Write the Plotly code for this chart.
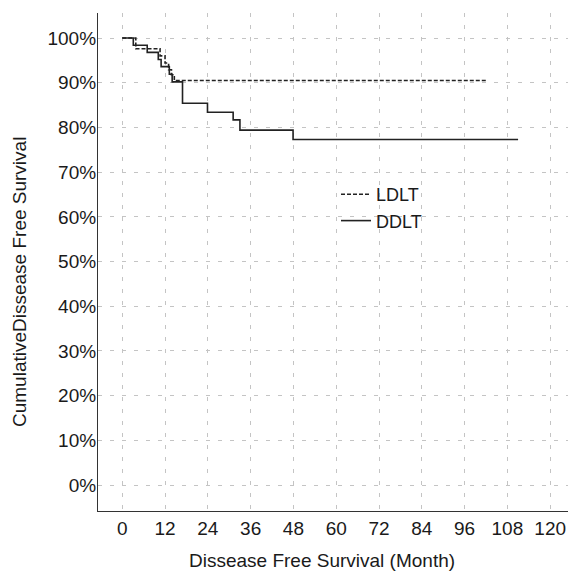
import plotly.graph_objects as go

# Kaplan-Meier step data (months, cumulative disease free survival %)
ldlt_months = [0, 3.8, 10.6, 12.0, 13.0, 13.8, 14.6, 102.2]
ldlt_surv = [100, 97.6, 96.0, 94.4, 92.9, 91.8, 90.5, 90.5]

ddlt_months = [0, 3.1, 7.0, 10.1, 10.9, 13.2, 14.0, 16.9, 23.9, 31.1, 33.0, 47.9, 111.0]
ddlt_surv = [100, 98.4, 96.8, 95.2, 93.6, 91.9, 90.2, 85.4, 83.4, 81.7, 79.4, 77.3, 77.3]

x_ticks = [0, 12, 24, 36, 48, 60, 72, 84, 96, 108, 120]
y_ticks = [0, 10, 20, 30, 40, 50, 60, 70, 80, 90, 100]
y_tick_labels = [f"{v}%" for v in y_ticks]

FONT = "Liberation Sans, Arial, sans-serif"
TXT = "#1a1a1a"

W, H = 569, 571
PL, PR, PT, PB = 98, 568, 13, 511
PW, PH = PR - PL, PB - PT

fig = go.Figure()
fig.add_trace(go.Scatter(
    x=ldlt_months, y=ldlt_surv, mode="lines", name="LDLT",
    line=dict(shape="hv", color="#222222", width=1.6, dash="4px,2px"),
))
fig.add_trace(go.Scatter(
    x=ddlt_months, y=ddlt_surv, mode="lines", name="DDLT",
    line=dict(shape="hv", color="#222222", width=1.6),
))

grid = dict(showgrid=True, gridcolor="#c4c4c4", gridwidth=1, griddash="4px,8px")

fig.update_layout(
    width=W, height=H,
    margin=dict(l=PL, r=W - PR, t=PT, b=H - PB),
    paper_bgcolor="white", plot_bgcolor="white",
    font=dict(family=FONT, size=19, color=TXT),
    showlegend=True,
    legend=dict(
        x=(336 - PL) / PW, y=(PB - 176) / PH, xanchor="left", yanchor="top",
        bgcolor="rgba(0,0,0,0)", borderwidth=0,
        font=dict(family=FONT, size=18, color=TXT),
        itemwidth=30, tracegroupgap=0,
    ),
    xaxis=dict(
        range=[-6.8, 125.0], tickvals=x_ticks, ticktext=[str(v) for v in x_ticks],
        showline=True, linecolor="#333333", linewidth=1.2, ticks="",
        zeroline=False, tickfont=dict(size=19, family=FONT, color=TXT),
        **grid,
    ),
    yaxis=dict(
        range=[-5.8, 105.6], tickvals=y_ticks, ticktext=y_tick_labels,
        showline=True, linecolor="#333333", linewidth=1.2, ticks="",
        zeroline=False, tickfont=dict(size=19, family=FONT, color=TXT),
        ticklabelstandoff=-3,
        **grid,
    ),
    annotations=[
        dict(text="Dissease Free Survival (Month)", xref="paper", yref="paper",
             x=(322 - PL) / PW, y=-(560 - PB) / PH, xanchor="center", yanchor="middle",
             showarrow=False, font=dict(family=FONT, size=19, color=TXT)),
        dict(text="CumulativeDissease Free Survival", xref="paper", yref="paper",
             x=-(PL - 19) / PW, y=(PB - 282) / PH, xanchor="center", yanchor="middle",
             textangle=-90, showarrow=False, font=dict(family=FONT, size=19, color=TXT)),
    ],
)

fig.write_html(
    "out.html",
    config={"displayModeBar": False},
    post_script="document.documentElement.style.margin='0';document.body.style.margin='0';document.body.style.overflow='hidden';",
)
